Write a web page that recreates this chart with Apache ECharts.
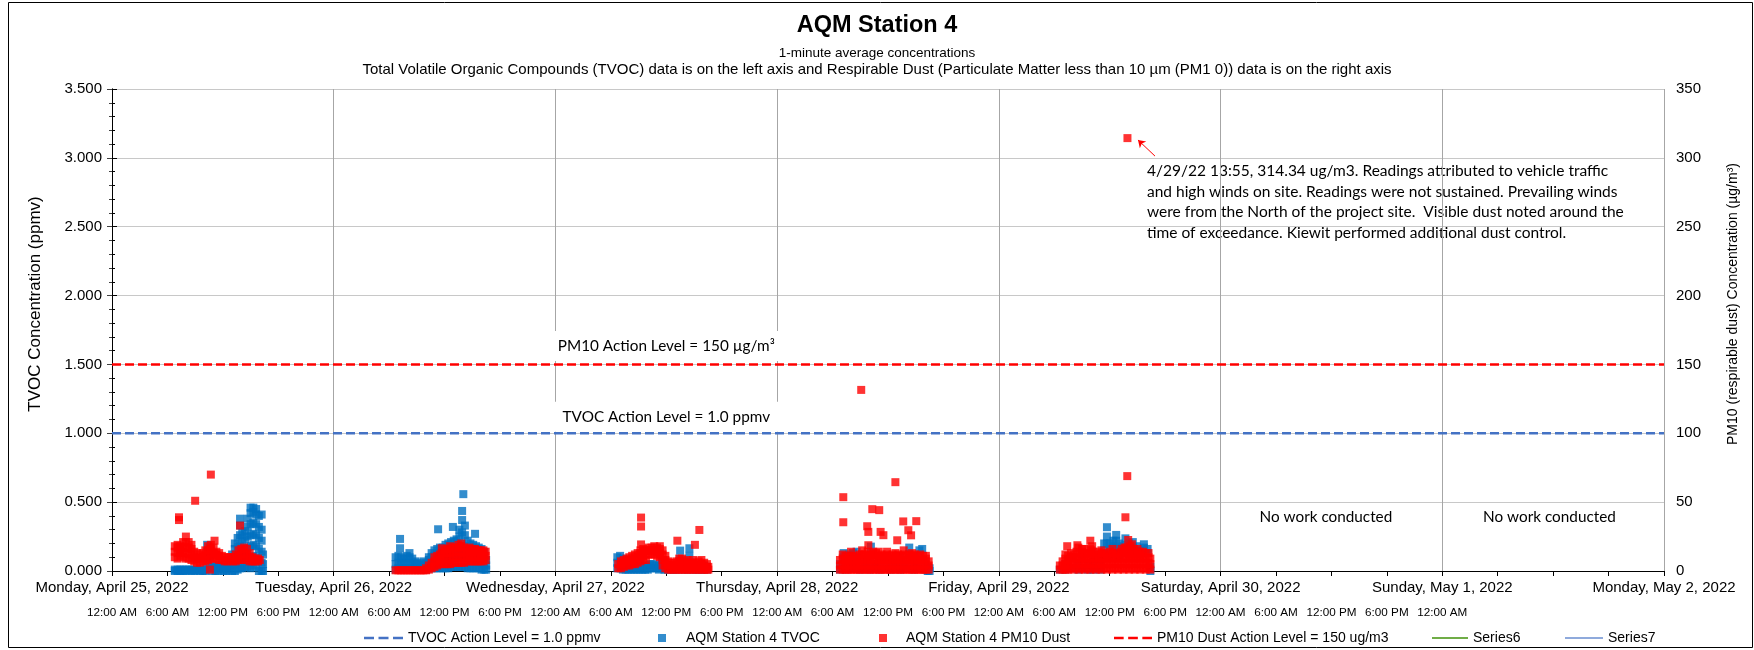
<!DOCTYPE html>
<html>
<head>
<meta charset="utf-8">
<script src="https://cdn.jsdelivr.net/npm/echarts@6/dist/echarts.min.js"></script>
<style>
  html, body { margin: 0; padding: 0; background: #fff; }
  #chart { width: 1754px; height: 650px; }
</style>
</head>
<body>
<div id="chart"></div>
<script>
// tick labels (x axis in hours from Mon Apr 25 2022 00:00)
const dayLabels = ['Monday, April 25, 2022', 'Tuesday, April 26, 2022', 'Wednesday, April 27, 2022',
  'Thursday, April 28, 2022', 'Friday, April 29, 2022', 'Saturday, April 30, 2022',
  'Sunday, May 1, 2022', 'Monday, May 2, 2022'];
const timeLabels = ['12:00 AM', '6:00 AM', '12:00 PM', '6:00 PM', '12:00 AM', '6:00 AM', '12:00 PM', '6:00 PM',
  '12:00 AM', '6:00 AM', '12:00 PM', '6:00 PM', '12:00 AM', '6:00 AM', '12:00 PM', '6:00 PM',
  '12:00 AM', '6:00 AM', '12:00 PM', '6:00 PM', '12:00 AM', '6:00 AM', '12:00 PM', '6:00 PM', '12:00 AM'];

const tvocActionLevel = 1.0;   // ppmv
const pm10ActionLevel = 150;   // ug/m3

// readings, one row per time: [hour of day, value, value, ...]
// TVOC in ppmv, PM10 in ug/m3
const tvocApr25 = [[6.8, 0, 0.01], [7.1, 0, 0.01], [7.4, 0.01, 0], [7.7, 0, 0.01], [8.0, 0, 0.01], [8.3, 0.01],
  [8.6, 0, 0.01], [8.9, 0, 0.01], [9.2, 0.01], [9.5, 0, 0.01], [9.8, 0, 0.01], [10.1, 0, 0.01],
  [10.3, 0.02, 0.08, 0.14, 0.19], [10.6, 0.03, 0.1, 0.17], [10.9, 0, 0.02, 0.04], [11.2, 0, 0.03],
  [11.5, 0, 0.02, 0.04], [11.8, 0.01, 0.03], [12.1, 0, 0.02, 0.04], [12.4, 0, 0.03], [12.7, 0.01, 0.04],
  [13.0, 0, 0.04, 0.09, 0.12], [13.3, 0, 0.05, 0.1, 0.16, 0.2], [13.6, 0.01, 0.06, 0.12, 0.18, 0.24],
  [13.86, 0.02, 0.1, 0.18, 0.26, 0.33, 0.38], [14.1, 0.02, 0.08, 0.15, 0.22, 0.28],
  [14.4, 0.03, 0.09, 0.16, 0.23, 0.29], [14.7, 0.03, 0.1, 0.17, 0.25, 0.32, 0.38],
  [15.0, 0.02, 0.1, 0.18, 0.26, 0.34, 0.42, 0.46], [15.3, 0.04, 0.11, 0.19, 0.27, 0.35, 0.43, 0.46],
  [15.6, 0.03, 0.1, 0.18, 0.26, 0.34, 0.41, 0.45], [15.9, 0, 0.08, 0.16, 0.24, 0.32, 0.4],
  [16.2, 0, 0.06, 0.14, 0.22, 0.3, 0.41], [16.35, 0, 0.05, 0.12]];
const pm10Apr25 = [[6.8, 10, 14, 18], [7.1, 9, 13, 17, 19], [7.25, 37, 39], [7.4, 11, 15, 18], [7.7, 10, 14, 17, 21],
  [8.0, 9, 13, 17, 21, 25], [8.3, 9, 13, 17, 21], [8.6, 8, 12, 16, 19], [8.9, 7, 10, 14], [9.0, 51],
  [9.2, 6, 9, 13], [9.5, 6, 9, 12], [9.8, 7, 10, 13], [10.1, 7, 11, 15], [10.4, 8, 12, 15, 18], [10.6, 1],
  [10.7, 9, 13, 16, 19, 70], [11.0, 9, 13, 17], [11.1, 22], [11.3, 9, 12, 14], [11.6, 8, 11, 13], [11.9, 8, 11],
  [12.2, 7, 10], [12.5, 7, 10], [12.8, 8, 10], [13.1, 7, 10], [13.4, 7, 10, 12], [13.7, 8, 11, 15], [13.86, 33],
  [14.0, 8, 12, 16], [14.3, 9, 13, 17], [14.6, 8, 12, 16], [14.9, 7, 10, 13], [15.2, 7, 10], [15.5, 7, 9],
  [15.8, 7, 9], [16.0, 8]];

const tvocApr26 = [[6.7, 0.01, 0.05, 0.1], [7.0, 0.02, 0.06, 0.11], [7.18, 0.165, 0.233], [7.3, 0.02, 0.06, 0.1],
  [7.6, 0.02, 0.05, 0.09], [7.9, 0.02, 0.06, 0.11], [8.2, 0.02, 0.06, 0.1, 0.13], [8.5, 0.02, 0.05, 0.09],
  [8.8, 0.02, 0.05, 0.07], [9.1, 0.01, 0.04, 0.06], [9.4, 0.01, 0.03, 0.05], [9.7, 0.01, 0.04, 0.07],
  [10.0, 0.01, 0.04, 0.06], [10.3, 0.02, 0.05, 0.08, 0.1], [10.6, 0.02, 0.06, 0.1, 0.13],
  [10.9, 0.02, 0.07, 0.11, 0.15], [11.2, 0.02, 0.07, 0.12, 0.16], [11.3, 0.303], [11.5, 0.02, 0.08, 0.13, 0.17],
  [11.8, 0.02, 0.08, 0.13, 0.17], [12.1, 0.02, 0.08, 0.14, 0.19], [12.4, 0.02, 0.09, 0.15, 0.2],
  [12.7, 0.03, 0.09, 0.16, 0.21], [12.9, 0.32], [13.0, 0.03, 0.1, 0.16, 0.22], [13.3, 0.03, 0.1, 0.17, 0.23],
  [13.6, 0.03, 0.11, 0.18, 0.25, 0.3], [13.9, 0.03, 0.12, 0.2, 0.28, 0.37, 0.436], [14.03, 0.558],
  [14.2, 0.03, 0.1, 0.18, 0.26, 0.33], [14.5, 0.02, 0.09, 0.16, 0.22], [14.8, 0.02, 0.08, 0.15, 0.2],
  [15.1, 0.02, 0.08, 0.14, 0.19], [15.3, 0.27], [15.4, 0.02, 0.08, 0.14, 0.18], [15.7, 0.02, 0.07, 0.13, 0.17],
  [16.0, 0.01, 0.06, 0.12, 0.16], [16.3, 0.01, 0.05, 0.1, 0.14], [16.5, 0.01, 0.04, 0.08]];
const pm10Apr26 = [[6.7, 0.5], [7.0, 0.5], [7.3, 0.5], [7.6, 0.5], [7.9, 0.5], [8.2, 0.5], [8.5, 0.5], [8.8, 0.5],
  [9.1, 0.5], [9.4, 0.5], [9.7, 0.5], [10.0, 0.5, 2], [10.3, 1, 4], [10.6, 2, 6], [10.9, 3, 7, 10],
  [11.2, 4, 8, 11], [11.5, 5, 8, 12], [11.7, 5, 9, 13, 16.5], [12.0, 5, 9, 13, 15], [12.3, 5, 9, 13, 16],
  [12.6, 5, 9, 13, 16, 18], [12.9, 6, 10, 14, 17], [13.2, 6, 10, 14, 17], [13.5, 6, 10, 14, 17, 19],
  [13.8, 6, 10, 14, 18, 20], [14.1, 6, 10, 13, 17], [14.4, 7, 10, 14, 16], [14.7, 7, 10, 14, 17],
  [15.0, 7, 10, 13, 16], [15.3, 7, 11, 14, 16], [15.6, 7, 10, 14, 15], [15.9, 7, 10, 13, 15],
  [16.2, 7, 10, 13, 15], [16.45, 8, 11, 14]];

const tvocApr27 = [[6.7, 0.02, 0.06, 0.1], [7.0, 0.02, 0.06, 0.11], [7.3, 0.01, 0.05, 0.09], [7.6, 0.01, 0.04, 0.07],
  [7.9, 0.01, 0.04], [8.2, 0.01, 0.03], [8.5, 0.01, 0.04], [8.8, 0.01, 0.03], [9.1, 0.01, 0.04], [9.4, 0.01, 0.03],
  [9.7, 0.01, 0.04], [10.0, 0.01, 0.04], [10.3, 0.02, 0.05], [10.6, 0.02, 0.05], [10.9, 0.02, 0.04],
  [11.2, 0.01, 0.04], [11.5, 0.02, 0.05, 0.07], [11.8, 0.01, 0.04], [12.1, 0.01, 0.03], [12.4, 0.01, 0.03],
  [12.7, 0.01, 0.04], [13.0, 0.01, 0.03], [13.3, 0.01, 0.04], [13.5, 0.09, 0.148], [13.7, 0.02, 0.05],
  [14.0, 0.01, 0.04], [14.3, 0.01, 0.03], [14.5, 0.11, 0.165], [14.6, 0.02, 0.06], [14.9, 0.01, 0.04],
  [15.2, 0.01, 0.03], [15.5, 0.01, 0.04], [15.8, 0.01, 0.03], [16.1, 0.01, 0.04], [16.4, 0.01, 0.03]];
const pm10Apr27 = [[6.8, 2, 5], [7.1, 2, 5, 7], [7.4, 3, 6, 8], [7.7, 4, 7, 9], [8.0, 4, 8, 10], [8.3, 5, 8, 11],
  [8.6, 5, 9, 12], [8.9, 6, 10, 13], [9.2, 7, 10, 13, 15], [9.27, 19.3, 32.3, 38.8], [9.5, 8, 11, 14, 16],
  [9.8, 8, 12, 15], [10.1, 12, 15, 17], [10.4, 12, 15, 17], [10.7, 12, 15, 18], [11.0, 11, 14, 17],
  [11.3, 10, 13, 16, 18], [11.6, 4, 8, 12, 15], [11.9, 2, 5, 8, 11], [12.2, 1, 4, 7], [12.5, 1, 4, 6],
  [12.8, 1, 3, 6], [13.1, 1, 4, 7], [13.2, 22], [13.4, 1, 4, 7, 9], [13.7, 1, 3, 6, 9], [14.0, 1, 4, 7],
  [14.3, 1, 3, 5, 8], [14.6, 1, 3, 6], [14.9, 1, 4, 6, 8], [15.1, 19], [15.2, 1, 3, 6], [15.5, 1, 4, 7],
  [15.58, 29.8], [15.8, 1, 3, 5, 8], [16.1, 1, 3, 6], [16.4, 1, 3, 5], [16.55, 1, 3]];

const tvocApr28 = [[6.8, 0.01, 0.05], [7.2, 0.1, 0.13], [7.5, 0.01, 0.06, 0.11], [7.8, 0.12], [8.2, 0.02, 0.07, 0.1, 0.13],
  [8.6, 0.14], [9.0, 0.01, 0.08], [9.5, 0.02, 0.05], [10.0, 0.01, 0.06], [10.15, 0.12, 0.177], [10.6, 0.02, 0.05],
  [11.1, 0.01, 0.06], [11.8, 0.02, 0.1], [12.3, 0.01, 0.05], [12.5, 0.09], [12.9, 0.02, 0.06], [13.3, 0.01, 0.11],
  [13.8, 0.02, 0.05], [14.3, 0.12, 0.17], [14.8, 0.01, 0.06], [15.1, 0.02, 0.05], [15.4, 0.11, 0.15],
  [15.7, 0.16], [16.0, 0.01, 0.05], [16.3, 0, 0.03], [16.5, 0, 0.02]];
const pm10Apr28 = [[6.8, 1, 4, 8], [7.1, 1, 5, 9, 12], [7.16, 35.4, 53.6], [7.4, 1, 4, 8, 11], [7.7, 1, 4, 7, 10],
  [8.0, 1, 5, 8, 11, 14], [8.3, 1, 4, 8, 11], [8.6, 1, 4, 7, 10], [8.9, 1, 5, 9, 12], [9.1, 131.5],
  [9.2, 1, 4, 8, 12, 15], [9.5, 1, 5, 9, 12], [9.75, 32.5], [9.8, 1, 4, 8, 11, 14], [9.87, 18.7, 28.4],
  [10.1, 1, 5, 9, 12], [10.3, 44.9], [10.4, 1, 4, 8, 12, 14], [10.7, 1, 5, 9, 13], [11.0, 1, 4, 8, 11, 14],
  [11.05, 44.2], [11.2, 28.4], [11.3, 1, 5, 9, 12], [11.5, 26], [11.6, 1, 4, 8, 11], [11.9, 1, 5, 9, 12, 14],
  [12.2, 1, 4, 8, 11], [12.5, 1, 5, 9, 12], [12.8, 1, 4, 8, 11, 13, 64.5], [13.0, 22.3], [13.1, 1, 5, 9, 12],
  [13.4, 1, 4, 8, 11], [13.65, 36], [13.7, 1, 5, 8, 12, 15], [14.0, 1, 4, 8, 11], [14.2, 29.6],
  [14.3, 1, 5, 9, 12], [14.5, 25.9], [14.6, 1, 4, 8, 11, 13], [14.9, 1, 5, 9, 12], [15.06, 36.2],
  [15.2, 1, 4, 8, 11], [15.5, 1, 5, 8, 12], [15.8, 1, 4, 8, 11], [16.1, 1, 5, 9, 11], [16.4, 1, 4, 7]];

const tvocApr29 = [[6.6, 0.01], [7.2, 0.01, 0.05], [8.0, 0.02, 0.1], [8.6, 0.01, 0.06], [9.0, 0.02, 0.12],
  [9.6, 0.01, 0.05], [10.2, 0.01, 0.07], [10.5, 0.02, 0.12], [11.0, 0.01, 0.08], [11.4, 0.15, 0.2],
  [11.7, 0.2, 0.25, 0.318], [12.0, 0.1, 0.15, 0.2], [12.4, 0.18, 0.22], [12.7, 0.17, 0.22, 0.262],
  [13.0, 0.1, 0.16, 0.2], [13.4, 0.18], [13.7, 0.19, 0.237], [14.1, 0.15, 0.2], [14.5, 0.17, 0.21],
  [14.9, 0.14, 0.18], [15.3, 0.15], [15.7, 0.17, 0.194], [16.1, 0.13, 0.16], [16.4, 0, 0.03]];
const pm10Apr29 = [[6.6, 1, 4], [6.9, 1, 4, 7], [7.2, 1, 5, 9, 12], [7.4, 18], [7.5, 1, 4, 8, 11], [7.8, 2, 6, 10, 13],
  [8.1, 1, 5, 9, 12], [8.4, 2, 6, 10, 14], [8.5, 18.7], [8.6, 17], [8.7, 1, 5, 9, 13], [9.0, 2, 6, 10, 14, 16],
  [9.2, 16], [9.3, 1, 5, 9, 12], [9.6, 2, 6, 10, 13], [9.9, 1, 5, 9, 13, 16, 22], [10.0, 15], [10.1, 18],
  [10.2, 2, 6, 10, 14], [10.5, 1, 5, 9, 12], [10.8, 2, 6, 10, 14], [11.1, 1, 5, 9, 13, 15], [11.4, 2, 6, 10, 13],
  [11.7, 1, 5, 9, 12], [12.0, 2, 6, 10, 14], [12.3, 1, 5, 9, 13, 16], [12.6, 2, 6, 10, 13], [12.9, 1, 5, 9, 12],
  [13.2, 2, 6, 10, 14], [13.3, 16], [13.5, 1, 5, 9, 13], [13.6, 17], [13.7, 39], [13.8, 2, 6, 10, 14, 17],
  [13.9, 68.9], [13.92, 314.34], [14.0, 22.5], [14.1, 1, 5, 9, 12, 15], [14.2, 18], [14.4, 2, 6, 10, 14, 19.4],
  [14.6, 16], [14.7, 1, 5, 9, 12], [15.0, 2, 6, 10, 13, 16], [15.2, 14], [15.3, 1, 5, 9, 12], [15.6, 2, 6, 10, 14],
  [15.9, 1, 5, 9, 13], [16.2, 2, 6, 10, 13], [16.4, 1, 5, 9]];

const noteText = [
  '4/29/22 13:55, 314.34 ug/m3. Readings attributed to vehicle traffic',
  'and high winds on site. Readings were not sustained. Prevailing winds',
  'were from the North of the project site.  Visible dust noted around the',
  'time of exceedance. Kiewit performed additional dust control.'
];

function dayPoints(day, rows) {
  const pts = [];
  rows.forEach(function (r) {
    for (let i = 1; i < r.length; i++) pts.push([day * 24 + r[0], r[i]]);
  });
  return pts;
}

const tvocPoints = [].concat(dayPoints(0, tvocApr25), dayPoints(1, tvocApr26), dayPoints(2, tvocApr27),
  dayPoints(3, tvocApr28), dayPoints(4, tvocApr29));
const pm10Points = [].concat(dayPoints(0, pm10Apr25), dayPoints(1, pm10Apr26), dayPoints(2, pm10Apr27),
  dayPoints(3, pm10Apr28), dayPoints(4, pm10Apr29));

const FONT = 'Liberation Sans';
const NOTE_FONT = 'Lato';

// legend icons drawn as paths so the boxes keep their size
function squareIcon(w) { return 'path://M0,0M' + w + ',8M0,0h8v8h-8z'; }
function dashIcon(w) {
  const gap = 4.5, d = (w - 2 * gap) / 3;
  let p = 'path://M0,0M' + w + ',8';
  for (let i = 0; i < 3; i++) p += 'M' + (i * (d + gap)) + ',2.75h' + d + 'v2.5h-' + d + 'z';
  return p;
}
function solidIcon(w) { return 'path://M0,0M' + w + ',8M0,3h' + w + 'v2h-' + w + 'z'; }

const legendBase = { top: 630, padding: 0, selectedMode: false, itemHeight: 8,
  textStyle: { fontFamily: FONT, fontSize: 14, color: '#000', lineHeight: 16 } };

const chart = echarts.init(document.getElementById('chart'));
chart.setOption({
  animation: false,
  backgroundColor: '#fff',
  title: {
    text: 'AQM Station 4',
    subtext: '{a|1-minute average concentrations}\n{b|Total Volatile Organic Compounds (TVOC) data is on the left axis and Respirable Dust (Particulate Matter less than 10 \u00b5m (PM1 0)) data is on the right axis}',
    left: 'center', top: 8, itemGap: 5.5,
    textStyle: { fontFamily: FONT, fontSize: 23.5, fontWeight: 'bold', color: '#000', lineHeight: 26 },
    subtextStyle: { align: 'center', color: '#000',
      rich: {
        a: { fontFamily: FONT, fontSize: 13.5, lineHeight: 17, color: '#000' },
        b: { fontFamily: FONT, fontSize: 15, lineHeight: 17, color: '#000' }
      } }
  },
  grid: { left: 112, right: 90, top: 89, bottom: 79 },
  legend: [
    Object.assign({}, legendBase, { left: 364, itemWidth: 39,
      data: [{ name: 'TVOC Action Level = 1.0 ppmv', icon: dashIcon(39) }] }),
    Object.assign({}, legendBase, { left: 658, itemWidth: 23,
      data: [{ name: 'AQM Station 4 TVOC', icon: squareIcon(23) }] }),
    Object.assign({}, legendBase, { left: 879, itemWidth: 22,
      data: [{ name: 'AQM Station 4 PM10 Dust', icon: squareIcon(22) }] }),
    Object.assign({}, legendBase, { left: 1114, itemWidth: 38,
      data: [{ name: 'PM10 Dust Action Level = 150 ug/m3', icon: dashIcon(38) }] }),
    Object.assign({}, legendBase, { left: 1432, itemWidth: 36, data: [{ name: 'Series6', icon: solidIcon(36) }] }),
    Object.assign({}, legendBase, { left: 1565, itemWidth: 38, data: [{ name: 'Series7', icon: solidIcon(38) }] })
  ],
  xAxis: [{
    // main axis: ticks every 6 hours, day labels
    type: 'value', min: 0, max: 168, interval: 6, position: 'bottom',
    axisLine: { onZero: false, lineStyle: { color: '#000', width: 1 } },
    axisTick: { show: true, length: 5, lineStyle: { color: '#000' } },
    splitLine: { show: false },
    axisLabel: {
      margin: 9, showMinLabel: true, showMaxLabel: true, hideOverlap: false,
      fontFamily: FONT, fontSize: 15, color: '#000',
      formatter: function (v) { return v % 24 === 0 ? dayLabels[v / 24] : ''; }
    }
  }, {
    // day gridlines
    type: 'value', min: 0, max: 168, interval: 24, position: 'bottom',
    axisLine: { show: false }, axisTick: { show: false }, axisLabel: { show: false },
    splitLine: { show: true, lineStyle: { color: '#A6A6A6', width: 1 } }
  }, {
    // second label row: time of day
    type: 'value', min: 0, max: 168, interval: 6, position: 'bottom',
    axisLine: { show: false }, axisTick: { show: false }, splitLine: { show: false },
    axisLabel: {
      margin: 36, showMinLabel: true, showMaxLabel: true, hideOverlap: false,
      fontFamily: FONT, fontSize: 11.7, color: '#000',
      formatter: function (v) { return timeLabels[v / 6] || ''; }
    }
  }],
  yAxis: [{
    type: 'value', min: 0, max: 3.5, interval: 0.5, position: 'left',
    name: 'TVOC Concentration (ppmv)', nameLocation: 'middle', nameRotate: 90, nameGap: 68,
    nameTextStyle: { fontFamily: FONT, fontSize: 17, color: '#000', padding: [0, 0, 0, 52] },
    axisLine: { show: true, lineStyle: { color: '#404040' } },
    axisTick: { show: true, length: 5, lineStyle: { color: '#404040' } },
    minorTick: { show: true, splitNumber: 5, length: 3, lineStyle: { color: '#404040' } },
    splitLine: { show: true, lineStyle: { color: '#C8C8C8' } },
    axisLabel: { fontFamily: FONT, fontSize: 15, color: '#000', margin: 10,
      formatter: function (v) { return v.toFixed(3); } }
  }, {
    type: 'value', min: 0, max: 350, interval: 50, position: 'right',
    name: 'PM10 (respirable dust) Concentration (\u00b5g/m\u00b3)', nameLocation: 'middle', nameRotate: 90, nameGap: 62,
    nameTextStyle: { fontFamily: FONT, fontSize: 14, color: '#000', padding: [0, 0, 0, 52] },
    axisLine: { show: true, lineStyle: { color: '#000' } },
    axisTick: { show: true, length: 5, lineStyle: { color: '#000' } },
    minorTick: { show: true, splitNumber: 5, length: 3, lineStyle: { color: '#000' } },
    splitLine: { show: false },
    axisLabel: { fontFamily: FONT, fontSize: 15, color: '#000', margin: 12 }
  }],
  series: [{
    name: 'TVOC Action Level = 1.0 ppmv', type: 'line', yAxisIndex: 0, symbol: 'none', silent: true,
    data: [[0, tvocActionLevel], [168, tvocActionLevel]],
    lineStyle: { color: '#4472C4', width: 2.5, type: [9, 4] }, itemStyle: { color: '#4472C4' },
    markPoint: {
      symbol: 'circle', symbolSize: 1, itemStyle: { color: 'rgba(0,0,0,0)' }, silent: true,
      data: [{ coord: [60, tvocActionLevel], label: {
        show: true, position: 'top', distance: 1, formatter: 'TVOC Action Level = 1.0 ppmv',
        fontFamily: NOTE_FONT, fontSize: 15.3, color: '#000', lineHeight: 16,
        backgroundColor: '#fff', padding: [7, 12] } }]
    }
  }, {
    name: 'AQM Station 4 TVOC', type: 'scatter', yAxisIndex: 0, symbol: 'rect', symbolSize: 8,
    itemStyle: { color: '#0070C0' }, data: tvocPoints
  }, {
    name: 'AQM Station 4 PM10 Dust', type: 'scatter', yAxisIndex: 1, symbol: 'rect', symbolSize: 8,
    itemStyle: { color: '#FF0000' }, data: pm10Points
  }, {
    name: 'PM10 Dust Action Level = 150 ug/m3', type: 'line', yAxisIndex: 1, symbol: 'none', silent: true,
    data: [[0, pm10ActionLevel], [168, pm10ActionLevel]],
    lineStyle: { color: '#FF0000', width: 2.5, type: [9, 4] }, itemStyle: { color: '#FF0000' },
    markPoint: {
      symbol: 'circle', symbolSize: 1, itemStyle: { color: 'rgba(0,0,0,0)' }, silent: true,
      label: { show: true, fontFamily: NOTE_FONT, fontSize: 15.3, color: '#000', lineHeight: 16 },
      data: [
        { coord: [60, pm10ActionLevel], label: { position: 'top', distance: 3,
          formatter: 'PM10 Action Level = 150 \u00b5g/m\u00b3', backgroundColor: '#fff', padding: [7, 12] } },
        { coord: [131.4, 39], label: { position: 'inside', formatter: 'No work conducted' } },
        { coord: [155.6, 39], label: { position: 'inside', formatter: 'No work conducted' } }
      ]
    },
    markLine: {
      silent: true, symbol: ['none', 'arrow'], symbolSize: 7, label: { show: false },
      lineStyle: { color: '#FF0000', width: 1, type: 'solid' },
      data: [[{ coord: [112.9, 301.3] }, { coord: [111.06, 313] }]]
    }
  }, {
    name: 'Series6', type: 'line', yAxisIndex: 0, symbol: 'none', data: [],
    lineStyle: { color: '#70AD47', width: 2 }, itemStyle: { color: '#70AD47' }
  }, {
    name: 'Series7', type: 'line', yAxisIndex: 0, symbol: 'none', data: [],
    lineStyle: { color: '#8FAADC', width: 2 }, itemStyle: { color: '#8FAADC' }
  }],
  graphic: [{
    type: 'rect', silent: true, z: -1,
    shape: { x: 8.5, y: 2.5, width: 1744, height: 645 },
    style: { fill: 'none', stroke: '#000', lineWidth: 1 }
  }, {
    type: 'text', left: 1147, top: 161, silent: true,
    style: { text: noteText.join('\n'), fontFamily: NOTE_FONT, fontSize: 15.5, lineHeight: 20.5, fill: '#000' }
  }]
});
</script>
</body>
</html>
